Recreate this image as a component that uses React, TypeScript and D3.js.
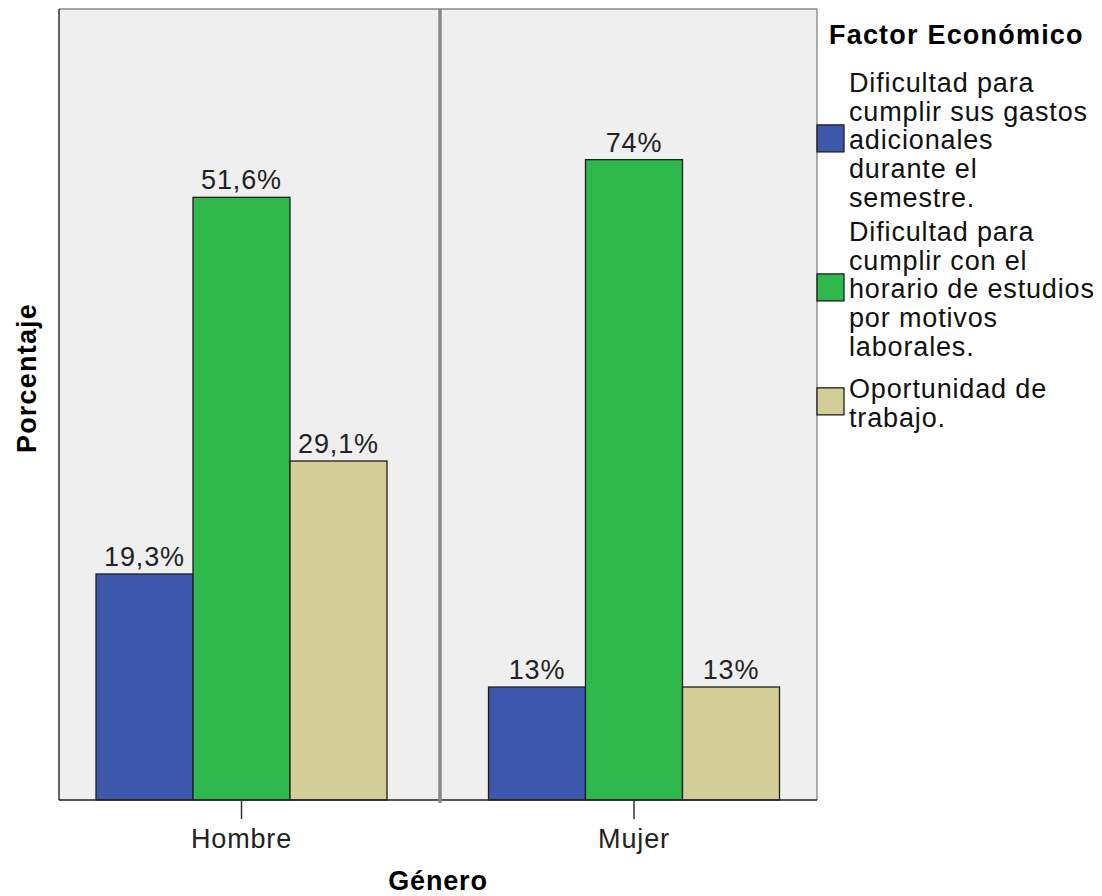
import React from "react";
import * as d3 from "d3";

const generos = ["Hombre", "Mujer"];
const factores = [
  "Dificultad para cumplir sus gastos adicionales durante el semestre.",
  "Dificultad para cumplir con el horario de estudios por motivos laborales.",
  "Oportunidad de trabajo.",
];
const legendLines = [
  ["Dificultad para", "cumplir sus gastos", "adicionales", "durante el", "semestre."],
  ["Dificultad para", "cumplir con el", "horario de estudios", "por motivos", "laborales."],
  ["Oportunidad de", "trabajo."],
];
// bar heights (counts)
const hombreValues = [6, 16, 9];
const mujerValues = [3, 17, 3];
// percentage labels shown on bars
const hombreLabels = ["19,3%", "51,6%", "29,1%"];
const mujerLabels = ["13%", "74%", "13%"];
const colors = ["#3d58aa", "#2fb84b", "#d3ce97"];

const FONT = "'Liberation Sans', Arial, sans-serif";

export default function App() {
  const W = 1102, H = 896;
  const left = 59, right = 817, top = 9, bottom = 800;
  const x = d3.scalePoint<string>().domain(generos).range([241.5, 634]);
  const inner = d3.scaleBand<string>().domain(factores).range([-145.5, 145.5]).padding(0);
  const y = d3.scaleLinear().domain([0, 21]).range([bottom, top]);
  const data = [
    { g: "Hombre", values: hombreValues, labels: hombreLabels },
    { g: "Mujer", values: mujerValues, labels: mujerLabels },
  ];
  const divider = 440;
  const step = 28.7;
  const itemStarts = [92, 241, 398];
  const ls = 0.85;

  return (
    <svg width={W} height={H} style={{ position: "absolute", left: 0, top: 0, background: "#fff" }} fontFamily={FONT}>
      <rect x={left} y={top} width={right - left} height={bottom - top} fill="#efefef" />
      {data.map((d) =>
        d.values.map((v, i) => {
          const bx = (x(d.g) as number) + (inner(factores[i]) as number);
          return (
            <g key={d.g + i}>
              <rect x={bx} y={y(v)} width={inner.bandwidth()} height={bottom - y(v)} fill={colors[i]} stroke="#1e1e1e" strokeWidth={1.3} />
              <text x={bx + inner.bandwidth() / 2} y={y(v) - 8} textAnchor="middle" fontSize={27} letterSpacing={ls} fill="#222">
                {d.labels[i]}
              </text>
            </g>
          );
        })
      )}
      {/* frame */}
      <line x1={left} y1={top} x2={right} y2={top} stroke="#888" strokeWidth={1.5} />
      <line x1={right} y1={top} x2={right} y2={bottom} stroke="#777" strokeWidth={1.2} />
      <line x1={left} y1={top} x2={left} y2={bottom} stroke="#333" strokeWidth={1.5} />
      <line x1={left} y1={bottom} x2={right} y2={bottom} stroke="#222" strokeWidth={1.5} />
      <line x1={divider} y1={top} x2={divider} y2={bottom + 3} stroke="#888" strokeWidth={3.5} />
      {/* ticks */}
      {generos.map((g) => (
        <g key={g}>
          <line x1={x(g) as number} x2={x(g) as number} y1={bottom} y2={bottom + 19} stroke="#333" strokeWidth={1.5} />
          <text x={x(g) as number} y={848} textAnchor="middle" fontSize={27} letterSpacing={ls} fill="#222">
            {g}
          </text>
        </g>
      ))}
      <text x={438} y={890} textAnchor="middle" fontSize={27} fontWeight="bold" letterSpacing={ls} fill="#000">
        Género
      </text>
      <text transform="translate(36,378) rotate(-90)" textAnchor="middle" fontSize={27} fontWeight="bold" letterSpacing={1.2} fill="#000">
        Porcentaje
      </text>
      {/* legend */}
      <text x={829} y={44} fontSize={27} fontWeight="bold" letterSpacing={1.2} fill="#000">
        Factor Económico
      </text>
      {legendLines.map((lines, i) => {
        const start = itemStarts[i];
        const mid = start + ((lines.length - 1) * step) / 2;
        return (
          <g key={i}>
            <rect x={817} y={mid - 11 - 13.5} width={27} height={27} fill={colors[i]} stroke="#1e1e1e" strokeWidth={1.3} />
            {lines.map((l, j) => (
              <text key={j} x={849} y={start + j * step} fontSize={27} letterSpacing={ls} fill="#111">
                {l}
              </text>
            ))}
          </g>
        );
      })}
    </svg>
  );
}
